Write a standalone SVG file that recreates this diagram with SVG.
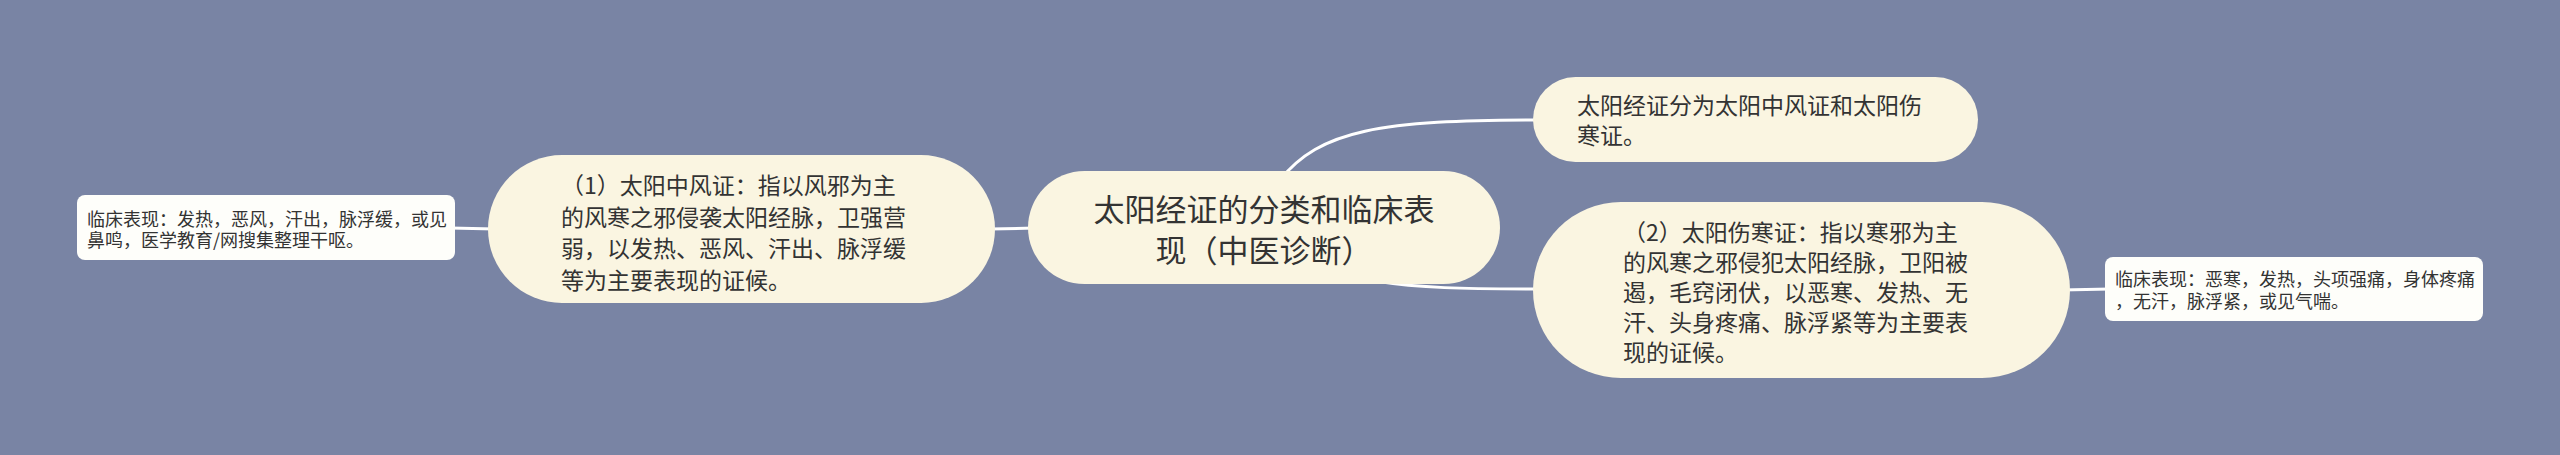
<svg xmlns="http://www.w3.org/2000/svg" width="2560" height="455" viewBox="0 0 2560 455">
<style>
.bg{fill:#7984a4}
.pill{fill:#faf5e1}
.leaf{fill:#fefefa}
.link{fill:none;stroke:#ffffff;stroke-width:3;stroke-linecap:round}
text{font-family:"Noto Sans CJK SC","Noto Sans",sans-serif;fill:#333333}
.t31{font-size:31px}
.t23{font-size:23px}
.t18{font-size:18px}
</style>
<rect class="bg" x="0" y="0" width="2560" height="455"/>
<g id="connectors">
<path class="link" d="M450,228 L495,229"/>
<path class="link" d="M990,229 L1035,228"/>
<path class="link" d="M1280,180 C1320,130 1380,120 1540,120"/>
<path class="link" d="M1375,281 C1420,288 1460,289 1540,289"/>
<path class="link" d="M2062,290 L2110,289"/>
</g>
<g id="root">
<rect class="pill" x="1028" y="171" width="472" height="113" rx="56.5"/>
<text class="t31" text-anchor="middle"><tspan x="1264" y="221">太阳经证的分类和临床表</tspan><tspan x="1264" y="262">现（中医诊断）</tspan></text>
</g>
<g id="node-summary">
<rect class="pill" x="1533" y="77" width="445" height="85" rx="42.5"/>
<text class="t23"><tspan x="1577" y="113.5">太阳经证分为太阳中风证和太阳伤</tspan><tspan x="1577" y="143.5">寒证。</tspan></text>
</g>
<g id="node-shanghan">
<rect class="pill" x="1533" y="202" width="537" height="176" rx="88"/>
<text class="t23"><tspan x="1623" y="240.5">（2）太阳伤寒证：指以寒邪为主</tspan><tspan x="1623" y="270.5">的风寒之邪侵犯太阳经脉，卫阳被</tspan><tspan x="1623" y="300.5">遏，毛窍闭伏，以恶寒、发热、无</tspan><tspan x="1623" y="330.5">汗、头身疼痛、脉浮紧等为主要表</tspan><tspan x="1623" y="360.5">现的证候。</tspan></text>
</g>
<g id="node-zhongfeng">
<rect class="pill" x="488" y="155" width="507" height="148" rx="74"/>
<text class="t23"><tspan x="561" y="194">（1）太阳中风证：指以风邪为主</tspan><tspan x="561" y="225.5">的风寒之邪侵袭太阳经脉，卫强营</tspan><tspan x="561" y="257">弱，以发热、恶风、汗出、脉浮缓</tspan><tspan x="561" y="288.5">等为主要表现的证候。</tspan></text>
</g>
<g id="leaf-zhongfeng">
<rect class="leaf" x="77" y="195" width="378" height="65" rx="8"/>
<text class="t18"><tspan x="87" y="225.5">临床表现：发热，恶风，汗出，脉浮缓，或见</tspan><tspan x="87" y="246.5">鼻鸣，医学教育/网搜集整理干呕。</tspan></text>
</g>
<g id="leaf-shanghan">
<rect class="leaf" x="2105" y="257" width="378" height="64" rx="8"/>
<text class="t18"><tspan x="2115" y="285.5">临床表现：恶寒，发热，头项强痛，身体疼痛</tspan><tspan x="2115" y="307.5">，无汗，脉浮紧，或见气喘。</tspan></text>
</g>
</svg>
